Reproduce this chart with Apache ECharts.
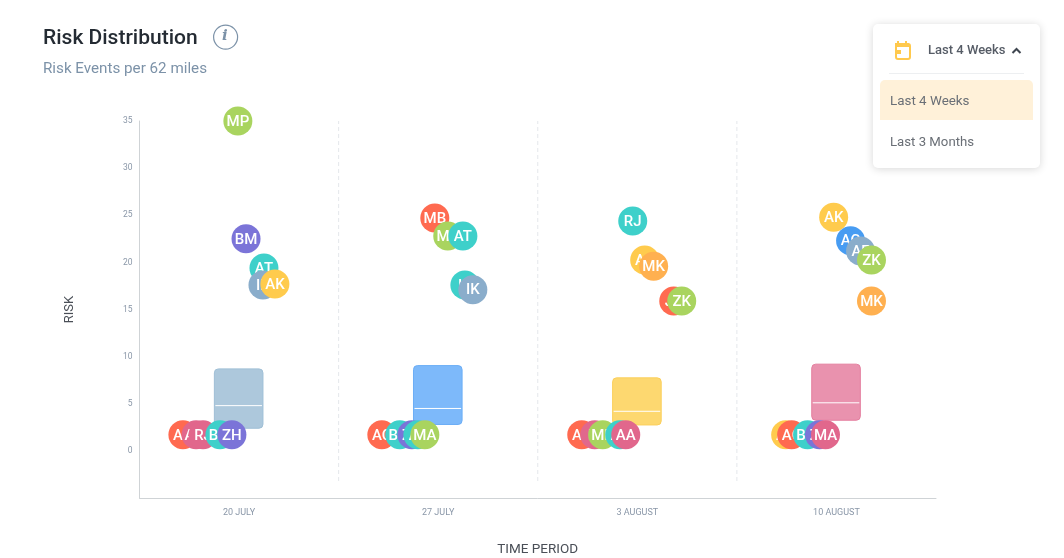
<!DOCTYPE html>
<html><head><meta charset="utf-8">
<style>html,body{margin:0;padding:0;background:#fff}#c{width:1064px;height:558px}</style>
<script src="https://cdn.jsdelivr.net/npm/echarts@6/dist/echarts.min.js"></script>
</head><body><div id="c"></div>
<script>
const weeks = ['20 JULY','27 JULY','3 AUGUST','10 AUGUST'];
const yTicks = [0,5,10,15,20,25,30,35];
const pointNames = ['MP','BM','AT','IK','AK','AA','AM','RJ','BM','ZH',
  'MB','MK','AT','IK','IK','AC','BM','ZH','AT','MA',
  'RJ','AK','MK','JK','ZK','AK','IK','MP','AT','AA',
  'AK','AC','AF','ZK','MK','AK','AC','BM','ZH','MA'];
const pointX = [0.494,0.535,0.625,0.620,0.680,0.218,0.284,0.319,0.404,0.464,
  1.483,1.548,1.624,1.634,1.674,1.217,1.307,1.368,1.398,1.433,
  2.477,2.537,2.582,2.683,2.723,2.221,2.286,2.326,2.412,2.442,
  3.486,3.571,3.621,3.676,3.676,3.245,3.275,3.355,3.415,3.445];
const pointY = [35,22.5,19.4,17.6,17.7,1.7,1.7,1.7,1.7,1.7,
  24.7,22.8,22.8,17.6,17.1,1.7,1.7,1.7,1.7,1.7,
  24.4,20.25,19.6,15.9,15.9,1.7,1.7,1.7,1.7,1.7,
  24.8,22.3,21.2,20.25,15.9,1.7,1.7,1.7,1.7,1.7];
const pointGroup = ['green','purple','teal','slate','yellow','red','pink','pink','teal','purple',
  'red','green','teal','teal','slate','red','teal','purple','teal','green',
  'teal','yellow','orange','red','green','red','pink','green','teal','pink',
  'yellow','blue','slate','green','orange','yellow','red','teal','purple','pink'];
const boxLow = [2.4,2.8,2.75,3.25];
const boxHigh = [8.7,9.05,7.75,9.2];
const boxMedian = [4.8,4.5,4.2,5.1];
const dividerX = [1,2,3];

const groupColor = {green:'#A9D45F',purple:'#7B74D8',teal:'#3ED0CA',slate:'#8AADCB',yellow:'#FFCB4D',
  red:'#FF6A50',pink:'#E1678C',orange:'#FFB050',blue:'#479CF2'};
const boxFill = ['#ADC8DC','#7DB9FA','#FDD870','#E992AE'];
const boxEdge = ['#9FBFD6','#6CAEF6','#FBCF5C','#E47F9F'];
const FONT = 'Roboto';

const series = [];
series.push({type:'custom',xAxisIndex:1,yAxisIndex:0,z:1,clip:false,silent:true,
  data:boxLow.map((v,i)=>[i+0.5,v,boxHigh[i],boxMedian[i]]),
  encode:{x:0,y:[1,2,3]},
  renderItem(params,api){
    const i=params.dataIndex,xc=api.value(0)-0.002;
    const a=api.coord([xc-0.122,api.value(2)]),b=api.coord([xc+0.122,api.value(1)]),m=api.coord([xc,api.value(3)]);
    return {type:'group',children:[
      {type:'rect',shape:{x:a[0],y:a[1],width:b[0]-a[0],height:b[1]-a[1],r:4},style:{fill:boxFill[i],stroke:boxEdge[i],lineWidth:1}},
      {type:'line',shape:{x1:a[0]+1,y1:m[1],x2:b[0]-1,y2:m[1]},style:{stroke:'#fff',lineWidth:1}}
    ]};
  }});
dividerX.forEach(x=>series.push({type:'line',xAxisIndex:1,yAxisIndex:0,z:1,silent:true,symbol:'none',
  data:[[x,-3.2],[x,35]],lineStyle:{color:'#E4E7EB',width:1,type:[4,3]}}));
pointNames.forEach((n,i)=>series.push({type:'scatter',xAxisIndex:1,yAxisIndex:0,z:10+i,clip:false,silent:true,
  symbol:'circle',symbolSize:29,name:n,
  data:[[pointX[i],pointY[i]]],
  itemStyle:{color:groupColor[pointGroup[i]],opacity:1},
  label:{show:true,position:'inside',formatter:n,color:'#fff',fontFamily:FONT,fontSize:15,fontWeight:500,offset:[0,1]}}));

const graphic=[
  {type:'circle',left:213,top:24.5,shape:{r:12},style:{fill:'#fff',stroke:'#7C92A8',lineWidth:1.2}},
  {type:'text',left:222,top:29,style:{text:'i',fill:'#7C92A8',font:'italic 700 15px "DejaVu Serif"'}},
  {type:'rect',left:873,top:24,z:20,shape:{width:167,height:144,r:5},style:{fill:'#fff',shadowBlur:9,shadowColor:'rgba(0,0,0,0.16)',shadowOffsetY:1}},
  {type:'rect',left:895,top:43,z:21,shape:{width:14,height:15,r:2},style:{fill:'#fff',stroke:'#FFC94D',lineWidth:2}},
  {type:'rect',left:895,top:43,z:21,shape:{width:14,height:4},style:{fill:'#FFC94D'}},
  {type:'rect',left:897,top:41,z:21,shape:{width:2,height:3},style:{fill:'#FFC94D'}},
  {type:'rect',left:905,top:41,z:21,shape:{width:2,height:3},style:{fill:'#FFC94D'}},
  {type:'rect',left:897,top:50,z:21,shape:{width:4,height:4},style:{fill:'#FFC94D'}},
  {type:'text',left:928,top:44.5,z:21,style:{text:'Last 4 Weeks',fill:'#565C66',font:'500 13px '+FONT}},
  {type:'polyline',left:1010,top:46.5,z:21,shape:{points:[[0,5],[4,1],[8,5]]},style:{stroke:'#3F4650',fill:'none',lineWidth:2}},
  {type:'line',z:21,shape:{x1:889,y1:73.5,x2:1024,y2:73.5},style:{stroke:'#EDEFF1',lineWidth:1}},
  {type:'rect',left:880,top:80,z:21,shape:{width:153,height:40,r:[5,5,0,0]},style:{fill:'#FFF1D9'}},
  {type:'text',left:890,top:95,z:22,style:{text:'Last 4 Weeks',fill:'#6A6F76',font:'400 13.4px '+FONT}},
  {type:'text',left:890,top:136,z:22,style:{text:'Last 3 Months',fill:'#6A6F76',font:'400 13.2px '+FONT}}
];

const chart=echarts.init(document.getElementById('c'),null,{renderer:'canvas'});
chart.setOption({
  animation:false,backgroundColor:'#fff',
  title:{text:'Risk Distribution',subtext:'Risk Events per 62 miles',left:43,top:28,padding:0,itemGap:13,
    textStyle:{fontFamily:FONT,fontSize:21,fontWeight:500,color:'#242B33'},
    subtextStyle:{fontFamily:FONT,fontSize:15.2,color:'#7C92A8'}},
  grid:{left:139.5,right:128,top:121,bottom:60,outerBoundsMode:'none'},
  xAxis:[
    {type:'category',data:weeks,position:'bottom',name:'TIME PERIOD',nameLocation:'middle',nameGap:45,
     nameTextStyle:{fontFamily:FONT,fontSize:13.5,color:'#4A4F57'},
     axisLine:{onZero:false,lineStyle:{color:'#CFD3D6'}},axisTick:{show:false},splitLine:{show:false},
     axisLabel:{fontFamily:FONT,fontSize:9,color:'#8A97A8',margin:10}},
    {type:'value',min:0,max:4,show:false,splitLine:{show:false}}
  ],
  yAxis:{type:'value',min:-5,max:35,interval:5,name:'RISK',nameLocation:'middle',nameGap:63,nameRotate:90,
    nameTextStyle:{fontFamily:FONT,fontSize:13,color:'#4A4F57'},
    axisLine:{show:true,lineStyle:{color:'#CFD3D6'}},axisTick:{show:false},splitLine:{show:false},
    axisLabel:{fontFamily:FONT,fontSize:8.5,color:'#8A97A8',margin:7,padding:[2,0,0,0],
      formatter:v=>yTicks.includes(v)?String(v):''}},
  series,graphic
});
</script></body></html>
